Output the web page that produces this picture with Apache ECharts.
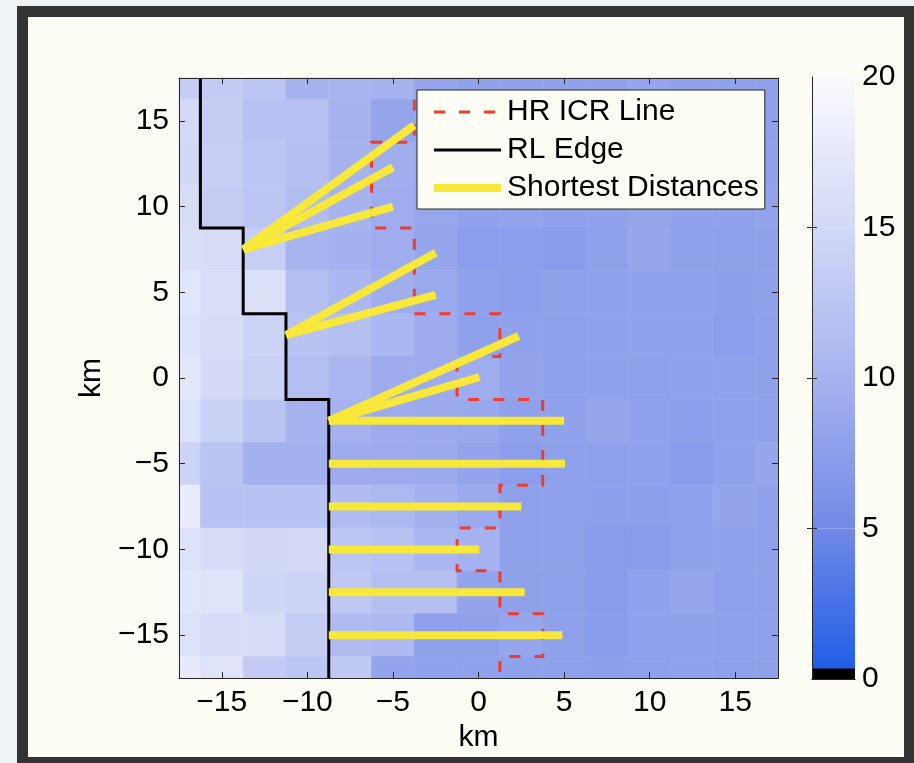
<!DOCTYPE html>
<html><head><meta charset="utf-8">
<script src="https://cdn.jsdelivr.net/npm/echarts@6/dist/echarts.min.js"></script>
<style>
html,body{margin:0;padding:0;background:#eef3f7;width:914px;height:763px;overflow:hidden}
#frame{position:absolute;left:17px;top:6px;width:897px;height:757px;box-sizing:border-box;border-style:solid;border-color:#333;border-width:11px 10px 6px 11px;background:#fdfdf5}
#chart{position:absolute;left:0;top:0;width:914px;height:763px}
</style></head><body>
<div id="frame"></div><div id="chart"></div>
<script>
// ---- data ----
const xCenters = [-17.5,-15,-12.5,-10,-7.5,-5,-2.5,0,2.5,5,7.5,10,12.5,15,17.5];
const yCenters = [17.5,15,12.5,10,7.5,5,2.5,0,-2.5,-5,-7.5,-10,-12.5,-15,-17.5];
const cellSize = 2.5;
const gridValues = [
  [13.5,13.3,12.6,10.0,10.3,10.0, 8.5, 8.0, 8.0, 8.0, 8.0, 8.4, 8.0, 8.0, 7.8],
  [15.2,13.5,12.0,11.8,10.0, 8.3, 8.3, 8.0, 7.8, 8.0, 7.8, 8.0, 8.0, 7.8, 7.8],
  [15.0,13.6,12.5,11.7,10.0, 9.4, 8.5, 8.0, 8.0, 7.8, 8.0, 8.0, 7.8, 7.8, 7.8],
  [15.8,13.5,12.6,11.2,10.0, 9.3, 8.6, 8.0, 8.2, 7.8, 8.0, 8.3, 8.0, 8.0, 8.2],
  [16.0,15.7,13.6,10.1, 9.8, 9.3, 8.4, 7.5, 7.4, 7.2, 7.8, 8.4, 7.8, 7.8, 7.8],
  [17.0,16.0,16.1,11.5,10.5, 9.4, 8.8, 7.8, 7.5, 7.8, 8.0, 8.0, 8.0, 7.7, 7.8],
  [16.6,15.8,14.3,12.1,11.7,10.5, 9.2, 7.8, 8.0, 7.8, 8.0, 8.0, 8.0, 7.5, 7.8],
  [17.2,15.4,14.0,11.5,10.4, 9.2, 9.0, 9.3, 8.2, 7.8, 8.0, 7.8, 8.0, 8.0, 7.8],
  [16.4,14.0,12.4,10.0, 9.9, 9.1, 8.9, 8.7, 7.8, 7.8, 8.4, 8.0, 7.7, 7.8, 7.8],
  [14.4,12.4, 9.8, 9.8, 9.2, 9.1, 8.9, 8.2, 7.5, 7.8, 7.8, 8.0, 7.2, 8.0, 8.4],
  [18.0,12.0,12.0,12.0,11.1,10.7, 9.8, 8.8, 7.8, 7.8, 7.7, 7.7, 8.0, 8.2, 7.8],
  [16.4,15.6,15.0,15.2,12.5,12.0,10.4, 9.9, 7.8, 7.8, 7.2, 7.2, 8.0, 8.0, 7.8],
  [17.0,16.8,14.7,14.3,12.8,11.7,11.7, 8.2, 7.8, 7.8, 7.2, 8.0, 8.4, 7.8, 7.8],
  [16.4,15.7,15.7,13.4,11.1,10.8, 7.8, 7.8, 8.4, 7.8, 7.2, 8.0, 7.8, 7.8, 7.8],
  [17.5,16.7,13.3,12.5,13.0, 8.2, 8.0, 8.0, 7.8, 7.8, 7.7, 7.8, 8.0, 7.8, 7.8]
];
const axisTicks = [-15,-10,-5,0,5,10,15];
const cbarLabels = [0,5,10,15,20];
const cbarTicks = [5,10,15];
const cmapValues = [0,5,10,15,20];
const cmapColors = ['#1b5be5','#7289e7','#a6b3ef','#d2d8f6','#fafaff'];
const cbarBlackTop = 0.35;
const hrIcrLine = [[-3.75,16.25],[-3.75,13.75],[-6.25,13.75],[-6.25,8.75],[-3.75,8.75],[-3.75,3.75],
  [1.25,3.75],[1.25,1.25],[-1.25,1.25],[-1.25,-1.25],[3.75,-1.25],[3.75,-6.25],[1.25,-6.25],
  [1.25,-8.75],[-1.25,-8.75],[-1.25,-11.25],[1.25,-11.25],[1.25,-13.75],[3.75,-13.75],
  [3.75,-16.25],[1.25,-16.25],[1.25,-17.5]];
const rlEdge = [[-16.25,17.5],[-16.25,8.75],[-13.75,8.75],[-13.75,3.75],[-11.25,3.75],
  [-11.25,-1.25],[-8.75,-1.25],[-8.75,-17.5]];
const shortestDistances = [
  [[-13.75,7.5],[-3.75,14.75]],
  [[-13.75,7.5],[-5.0,12.3]],
  [[-13.75,7.5],[-5.0,10.0]],
  [[-11.25,2.5],[-2.5,7.3]],
  [[-11.25,2.5],[-2.5,4.85]],
  [[-8.75,-2.5],[2.35,2.45]],
  [[-8.75,-2.5],[0.05,0.05]],
  [[-8.75,-2.5],[5.0,-2.5]],
  [[-8.75,-5],[5.05,-5]],
  [[-8.75,-7.5],[2.5,-7.5]],
  [[-8.75,-10],[0.05,-10]],
  [[-8.75,-12.5],[2.7,-12.5]],
  [[-8.75,-15],[4.9,-15]]
];
const seriesNames = ['HR ICR Line','RL Edge','Shortest Distances'];

// ---- build ----
const FONT = 'Liberation Sans';
const RED = '#f23b2c', BLACK = '#000', YELLOW = '#f7e83a';
const heatData = [];
yCenters.forEach((y, r) => xCenters.forEach((x, c) => heatData.push([x, y, gridValues[r][c]])));
const fmt = v => v < 0 ? '\u2212' + Math.abs(v) : String(v);
const axisColor = '#262626';

function mainAxis(pos, showLabels, extra) {
  return Object.assign({
    type: 'value', gridIndex: 0, position: pos, min: -17.5, max: 17.5, z: 10,
    axisLine: {show: true, onZero: false, lineStyle: {color: axisColor, width: 1}},
    axisTick: {show: true, inside: true, length: 6, customValues: axisTicks, lineStyle: {color: axisColor}},
    axisLabel: showLabels ? {show: true, customValues: axisTicks, formatter: fmt, fontSize: 30,
      fontFamily: FONT, color: '#000', margin: 10} : {show: false},
    splitLine: {show: false}
  }, extra || {});
}

const series = [{
  type: 'custom', xAxisIndex: 0, yAxisIndex: 0, data: heatData, encode: {x: 0, y: 1},
  z: 1, silent: true,
  renderItem(params, api) {
    const x = api.value(0), y = api.value(1);
    const p1 = api.coord([x - cellSize / 2, y + cellSize / 2]);
    const p2 = api.coord([x + cellSize / 2, y - cellSize / 2]);
    const cs = params.coordSys;
    const rect = echarts.graphic.clipRectByRect(
      {x: p1[0], y: p1[1], width: p2[0] - p1[0], height: p2[1] - p1[1]},
      {x: cs.x, y: cs.y, width: cs.width, height: cs.height});
    if (!rect) return;
    const c = api.visual('color');
    return {type: 'rect', shape: rect, style: {fill: c, stroke: c, lineWidth: 0.6}};
  }
}, {
  name: seriesNames[0], type: 'line', xAxisIndex: 0, yAxisIndex: 0, data: hrIcrLine,
  symbol: 'none', z: 3, lineStyle: {color: RED, width: 3, type: [11, 14], join: 'miter', cap: 'butt'}
}, {
  name: seriesNames[1], type: 'line', xAxisIndex: 0, yAxisIndex: 0, data: rlEdge,
  symbol: 'none', z: 3, lineStyle: {color: BLACK, width: 3, join: 'miter'}
}];
shortestDistances.forEach(seg => series.push({
  name: seriesNames[2], type: 'line', xAxisIndex: 0, yAxisIndex: 0, data: seg,
  symbol: 'none', z: 4, lineStyle: {color: YELLOW, width: 8, cap: 'butt'}
}));
// colorbar
series.push({
  type: 'custom', xAxisIndex: 2, yAxisIndex: 2, silent: true, z: 1,
  data: cmapValues.slice(0, -1).map((v, i) => [v, cmapValues[i + 1], i]),
  renderItem(params, api) {
    const lo = api.value(0), hi = api.value(1), i = api.value(2);
    const p1 = api.coord([0, hi]), p2 = api.coord([1, lo]);
    return {type: 'rect', shape: {x: p1[0], y: p1[1], width: p2[0] - p1[0], height: p2[1] - p1[1]},
      style: {fill: new echarts.graphic.LinearGradient(0, 1, 0, 0,
        [{offset: 0, color: cmapColors[i]}, {offset: 1, color: cmapColors[i + 1]}])}};
  }
});
series.push({
  type: 'custom', xAxisIndex: 2, yAxisIndex: 2, silent: true, z: 2,
  data: [[0, cbarBlackTop]],
  renderItem(params, api) {
    const p1 = api.coord([0, api.value(1)]), p2 = api.coord([1, api.value(0)]);
    return {type: 'rect', shape: {x: p1[0], y: p1[1], width: p2[0] - p1[0], height: p2[1] - p1[1]},
      style: {fill: '#000'}};
  }
});

const option = {
  animation: false,
  backgroundColor: 'transparent',
  grid: [
    {left: 179, top: 78, width: 599, height: 600},
    {left: 812, top: 77, width: 43, height: 602}
  ],
  visualMap: {type: 'continuous', show: false, seriesIndex: 0, dimension: 2, min: 0, max: 20,
    inRange: {color: cmapColors}},
  legend: {
    data: [
      {name: seriesNames[0], lineStyle: {width: 3, color: RED, type: [11, 14]}},
      {name: seriesNames[1], lineStyle: {width: 3, color: BLACK}},
      {name: seriesNames[2], lineStyle: {width: 8, color: YELLOW}}
    ],
    orient: 'vertical', left: 417, top: 90, z: 20,
    backgroundColor: '#fdfdf5', borderColor: axisColor, borderWidth: 1, borderRadius: 0,
    padding: [7, 6, 6, 13], itemWidth: 67, itemHeight: 24, itemGap: 8,
    itemStyle: {opacity: 0},
    textStyle: {fontSize: 30, fontFamily: FONT, color: '#000', padding: [0, 0, 0, 1]},
    selectedMode: false
  },
  xAxis: [
    mainAxis('bottom', true, {name: 'km', nameLocation: 'middle', nameGap: 43,
      nameTextStyle: {fontSize: 30, fontFamily: FONT, color: '#000'}}),
    mainAxis('top', false),
    {type: 'value', gridIndex: 1, position: 'bottom', min: 0, max: 1, z: 10,
      axisLine: {show: true, lineStyle: {color: axisColor}}, axisTick: {show: false},
      axisLabel: {show: false}, splitLine: {show: false}},
    {type: 'value', gridIndex: 1, position: 'top', min: 0, max: 1, z: 10,
      axisLine: {show: true, lineStyle: {color: axisColor}}, axisTick: {show: false},
      axisLabel: {show: false}, splitLine: {show: false}}
  ],
  yAxis: [
    mainAxis('left', true, {name: 'km', nameLocation: 'middle', nameGap: 68, nameRotate: 90,
      nameTextStyle: {fontSize: 30, fontFamily: FONT, color: '#000'}}),
    mainAxis('right', false),
    {type: 'value', gridIndex: 1, position: 'right', min: 0, max: 20, z: 10,
      axisLine: {show: true, lineStyle: {color: axisColor}},
      axisTick: {show: true, inside: true, length: 5, customValues: cbarTicks, lineStyle: {color: axisColor}},
      axisLabel: {show: true, customValues: cbarLabels, fontSize: 30, fontFamily: FONT, color: '#000', margin: 7},
      splitLine: {show: false}},
    {type: 'value', gridIndex: 1, position: 'left', min: 0, max: 20, z: 10,
      axisLine: {show: true, lineStyle: {color: axisColor}},
      axisTick: {show: true, inside: true, length: 5, customValues: cbarTicks, lineStyle: {color: axisColor}},
      axisLabel: {show: false}, splitLine: {show: false}}
  ],
  series
};
const chart = echarts.init(document.getElementById('chart'), null, {renderer: 'canvas'});
chart.setOption(option);
</script>
</body></html>
